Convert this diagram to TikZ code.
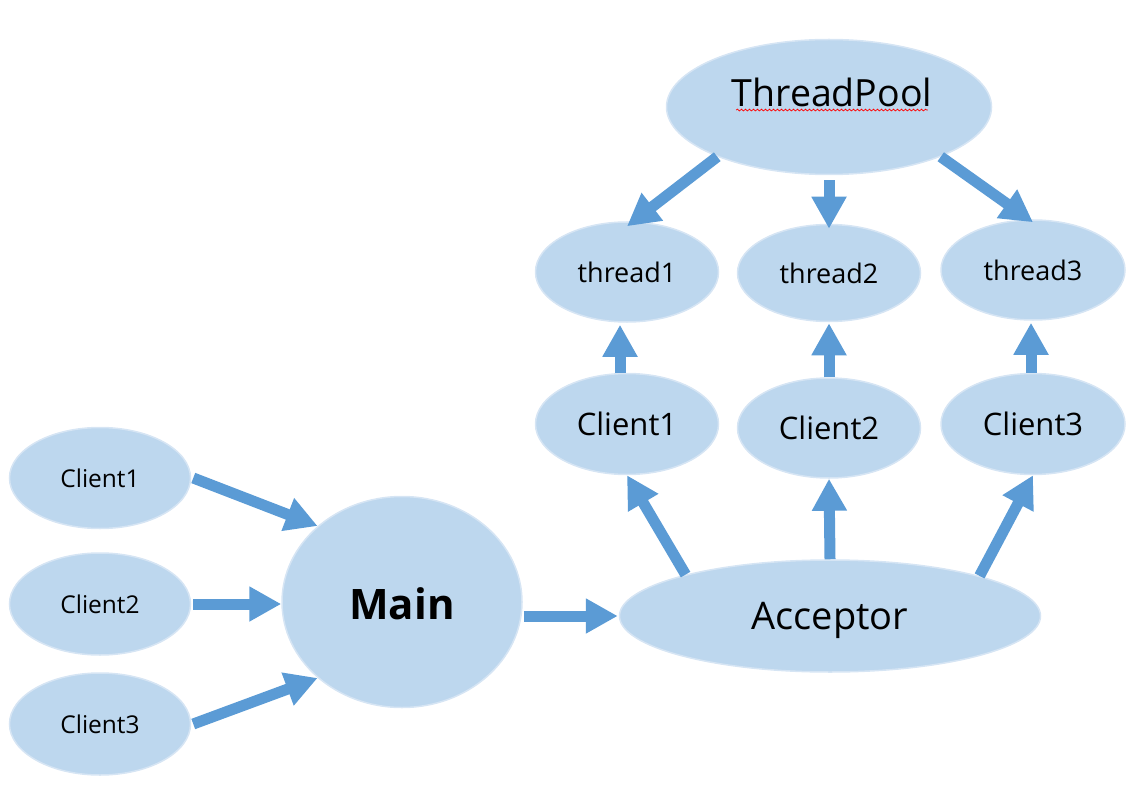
\documentclass[tikz,border=0pt]{standalone}
\usepackage{fontspec}
\setmainfont{Open Sans}
\usetikzlibrary{arrows.meta,shapes.geometric,decorations.pathmorphing}
\definecolor{efill}{HTML}{BDD7EE}
\definecolor{eline}{HTML}{D6E5F4}
\definecolor{arr}{HTML}{5B9BD5}
\tikzset{
  ell/.style={ellipse,fill=efill,draw=eline,line width=1.5pt,inner sep=0pt},
  bigarr/.style={draw=arr,line width=11pt,-{Triangle[width=33pt,length=32pt]}},
}
\begin{document}
\begin{tikzpicture}[x=1pt,y=-1pt]
\useasboundingbox (0,0) rectangle (1142,786);
% nodes
\node[ell,minimum width=325pt,minimum height=135pt] (tp) at (829,107) {};
\node[font=\fontsize{37.5}{40}\selectfont] (tpl) at (832,92) {ThreadPool};
\node[ell,minimum width=183pt,minimum height=100pt,font=\fontsize{27}{30}\selectfont] (t1) at (627,272) {thread1};
\node[ell,minimum width=183pt,minimum height=97pt,font=\fontsize{27}{30}\selectfont] (t2) at (829,273) {thread2};
\node[ell,minimum width=184pt,minimum height=100pt,font=\fontsize{27}{30}\selectfont] (t3) at (1033,270) {thread3};
\node[ell,minimum width=183pt,minimum height=101pt,font=\fontsize{31}{34}\selectfont] (c1r) at (627,424) {Client1};
\node[ell,minimum width=183pt,minimum height=100pt,font=\fontsize{31}{34}\selectfont] (c2r) at (829,428) {Client2};
\node[ell,minimum width=184pt,minimum height=101pt,font=\fontsize{31}{34}\selectfont] (c3r) at (1033,424) {Client3};
\node[ell,minimum width=421pt,minimum height=112pt,font=\fontsize{38}{40}\selectfont] (acc) at (830,616) {\raisebox{0pt}[\dimexpr\height+8pt\relax]{Acceptor}};
\node[ell,minimum width=240pt,minimum height=211pt,font=\bfseries\fontsize{42}{44}\selectfont] (main) at (402,602) {\raisebox{0pt}[\dimexpr\height+3pt\relax]{Main}};
\node[ell,minimum width=181pt,minimum height=101pt,font=\fontsize{24.5}{27}\selectfont] (c1l) at (100,478) {Client1};
\node[ell,minimum width=181pt,minimum height=102pt,font=\fontsize{24.5}{27}\selectfont] (c2l) at (100,604) {Client2};
\node[ell,minimum width=181pt,minimum height=102pt,font=\fontsize{24.5}{27}\selectfont] (c3l) at (100,724) {Client3};
% spell-check underline
\draw[red,line width=0.7pt,decorate,decoration={snake,segment length=4pt,amplitude=0.9pt}]
  ([yshift=-4pt]tpl.base west) ++(8,0) -- ([yshift=-4pt,xshift=-8pt]tpl.base east);
% arrows
\draw[bigarr] ([xshift=2pt]c1l.east) -- (main.138);
\draw[bigarr] ([xshift=2pt]c2l.east) -- (c2l.east -| main.west);
\draw[bigarr] ([xshift=2pt]c3l.east) -- (main.222);
\draw[bigarr] ([xshift=1pt]main.east |- acc.west) -- ([xshift=-1pt]acc.west);
\draw[bigarr] (acc.164) -- (c1r.south);
\draw[bigarr] (acc.north) -- (c2r.south);
\draw[bigarr] (acc.15) -- (c3r.south);
\draw[bigarr] ([xshift=-7pt]c1r.north) -- ([xshift=-7pt,yshift=-2pt]t1.south);
\draw[bigarr] (c2r.north) -- ([yshift=-1pt]t2.south);
\draw[bigarr] ([xshift=-2pt]c3r.north) -- ([xshift=-2pt,yshift=-2pt]t3.south);
\draw[bigarr] (tp.204) -- ([yshift=-5pt]t1.north);
\draw[bigarr,shorten <=5pt] (tp.south) -- ([yshift=-5pt]t2.north);
\draw[bigarr] (tp.-24) -- ([yshift=-3pt]t3.north);
\end{tikzpicture}
\end{document}
